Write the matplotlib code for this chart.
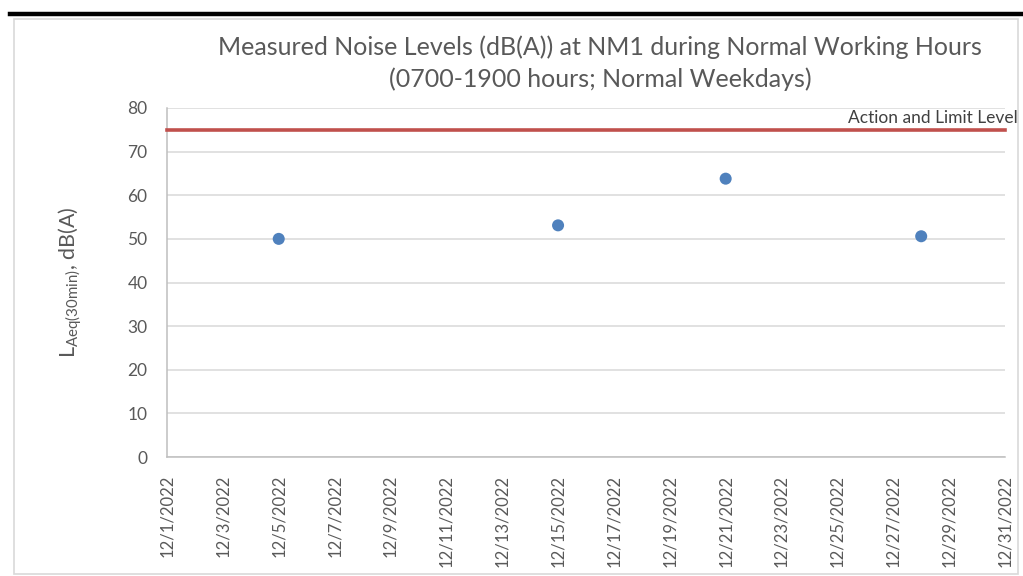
import matplotlib
matplotlib.use("Agg")
import matplotlib.pyplot as plt
from matplotlib.lines import Line2D
from matplotlib.patches import Rectangle
import datetime as dt

dates = ["2022-12-05", "2022-12-15", "2022-12-21", "2022-12-28"]
levels = [50.0, 53.1, 63.8, 50.6]
limit_level = 75
limit_label = "Action and Limit Level"
title = "Measured Noise Levels (dB(A)) at NM1 during Normal Working Hours\n(0700-1900 hours; Normal Weekdays)"
yticks = [0, 10, 20, 30, 40, 50, 60, 70, 80]

plt.rcParams['font.family'] = ['Lato', 'DejaVu Sans']
txt = '#595959'

fig = plt.figure(figsize=(10.23, 5.76), dpi=100)
W, H = 1023, 576
# outer decorations
fig.add_artist(Line2D([10 / W, 1.0], [1 - 14 / H, 1 - 14 / H], color='black', lw=3.2,
                      transform=fig.transFigure))
fig.add_artist(Rectangle((14 / W, 2 / H), (1018 - 14) / W, (557 - 2) / H, fill=False,
                         edgecolor='#D9D9D9', lw=1.2, transform=fig.transFigure))

ax = fig.add_axes([167 / W, 1 - 457 / H, (1005 - 167) / W, (457 - 108) / H])
x = [dt.datetime.strptime(d, "%Y-%m-%d") for d in dates]
x0 = dt.datetime(2022, 12, 1)
x1 = dt.datetime(2022, 12, 31)

ax.set_xlim(x0, x1)
ax.set_ylim(0, 80)
ax.set_yticks(yticks)
ax.grid(axis='y', color='#D9D9D9', lw=1.1)
ax.set_axisbelow(True)
for s in ['top', 'right']:
    ax.spines[s].set_visible(False)
for s in ['left', 'bottom']:
    ax.spines[s].set_color('#BFBFBF')
    ax.spines[s].set_linewidth(1.1)

ax.plot([x0, x1], [limit_level, limit_level], color='#C0504D', lw=2.6, zorder=3,
        clip_on=False)
ax.annotate(limit_label, xy=(1, 75 / 80), xycoords='axes fraction',
            xytext=(13, 4), textcoords='offset pixels', ha='right', va='bottom',
            fontsize=12.5, color='#404040', annotation_clip=False)
ax.scatter(x, levels, s=75, color='#4F81BD', zorder=4, edgecolors='none')

ticks = [x0 + dt.timedelta(days=2 * i) for i in range(16)]
ax.set_xticks(ticks)
ax.set_xticklabels([f"{t.month}/{t.day}/{t.year}" for t in ticks], rotation=90,
                   fontsize=12, color=txt)
ax.tick_params(axis='x', length=0, pad=13)
ax.tick_params(axis='y', length=0, labelsize=12.5, labelcolor=txt, pad=14)

ax.set_ylabel(r"L$_{\mathregular{Aeq(30min)}}$, dB(A)", fontsize=15.5, color=txt)
ax.yaxis.set_label_coords(-0.099, 0.5)
fig.text(600 / W, 1 - 63 / H, title, ha='center', va='center', fontsize=18,
         color=txt, linespacing=1.45)

fig.savefig("out.png", dpi=100)
